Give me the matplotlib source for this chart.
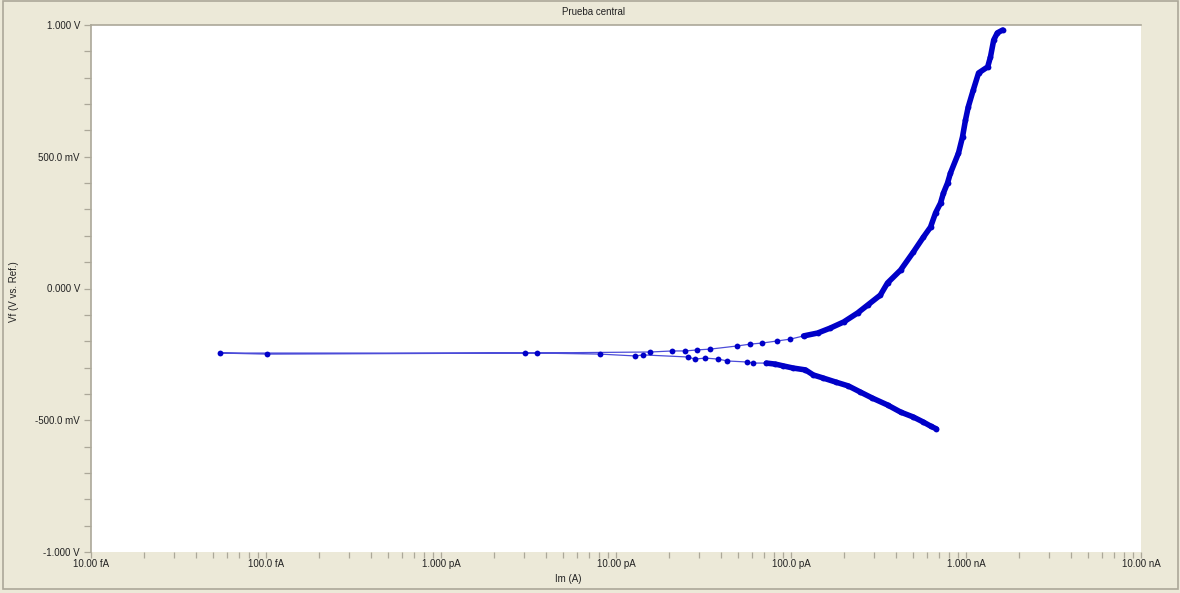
import matplotlib
matplotlib.use("Agg")
import matplotlib.pyplot as plt
from matplotlib.patches import Rectangle
from matplotlib.ticker import FixedLocator, LogLocator, NullFormatter
import numpy as np

# ---------------- data ----------------
# cathodic branch: scan start at -0.53 V moving toward Ecorr
cath_I = [6.78e-10, 6.27e-10, 5.71e-10, 5.01e-10, 4.23e-10, 3.56e-10, 2.92e-10,
          2.49e-10, 2.13e-10, 1.80e-10, 1.53e-10, 1.34e-10, 1.21e-10, 1.03e-10,
          9.06e-11, 8.15e-11, 7.23e-11, 6.10e-11, 5.64e-11, 4.32e-11, 3.85e-11,
          3.24e-11, 2.81e-11, 2.59e-11]
cath_V = [-0.533, -0.522, -0.507, -0.488, -0.469, -0.442, -0.416,
          -0.393, -0.370, -0.355, -0.340, -0.328, -0.309, -0.302,
          -0.294, -0.287, -0.283, -0.283, -0.279, -0.275, -0.268,
          -0.264, -0.268, -0.260]
# points around the corrosion potential (current through zero)
ecorr_I = [1.43e-11, 1.29e-11, 8.13e-12, 3.55e-12, 5.47e-14, 1.01e-13, 3.03e-12]
ecorr_V = [-0.252, -0.256, -0.249, -0.245, -0.245, -0.249, -0.245]
# anodic branch up to +1 V
anod_I = [1.57e-11, 2.10e-11, 2.49e-11, 2.92e-11, 3.46e-11, 4.94e-11, 5.86e-11,
          6.85e-11, 8.36e-11, 9.93e-11, 1.18e-10, 1.42e-10, 1.68e-10, 2.00e-10,
          2.40e-10, 2.74e-10, 3.24e-10, 3.56e-10, 4.23e-10, 5.01e-10, 5.71e-10,
          6.27e-10, 6.70e-10, 7.15e-10, 7.43e-10, 7.84e-10, 8.15e-10, 9.06e-10,
          9.55e-10, 9.93e-10, 1.03e-9, 1.10e-9, 1.18e-9, 1.33e-9, 1.38e-9,
          1.44e-9, 1.51e-9, 1.62e-9]
anod_V = [-0.241, -0.237, -0.237, -0.233, -0.230, -0.218, -0.211,
          -0.207, -0.199, -0.192, -0.180, -0.169, -0.150, -0.127,
          -0.093, -0.063, -0.025, 0.021, 0.070, 0.139, 0.195,
          0.233, 0.287, 0.324, 0.362, 0.400, 0.438, 0.514,
          0.575, 0.639, 0.689, 0.753, 0.818, 0.841, 0.879,
          0.943, 0.970, 0.981]

x_ticks = [1e-14, 1e-13, 1e-12, 1e-11, 1e-10, 1e-9, 1e-8]
x_labels = ["10.00 fA", "100.0 fA", "1.000 pA", "10.00 pA", "100.0 pA", "1.000 nA", "10.00 nA"]
y_ticks = [-1.0, -0.5, 0.0, 0.5, 1.0]
y_labels = ["-1.000 V", "-500.0 mV", "0.000 V", "500.0 mV", "1.000 V"]

title = "Prueba central"
xlabel = "Im (A)"
ylabel = "Vf (V vs. Ref.)"

# ---------------- figure ----------------
W, H = 1180, 593
BG = "#ECE9D8"
FRAME = "#ACA899"
BLUE = "#0000C8"
TXT = "#222222"
FONT = "Liberation Sans"

fig = plt.figure(figsize=(W / 100, H / 100), dpi=100, facecolor=BG)
fig.patches.append(Rectangle((3 / W, 1 - 589 / H), (1178 - 3) / W, (589 - 1) / H,
                             transform=fig.transFigure, fill=False,
                             edgecolor=FRAME, linewidth=1.2))

L, R, T, B = 91, 1141, 25, 552
ax = fig.add_axes([L / W, 1 - B / H, (R - L) / W, (B - T) / H])
ax.set_facecolor("white")
ax.set_xscale("log")
ax.set_xlim(1e-14, 1e-8)
ax.set_ylim(-1.0, 1.0)

for s in ["right", "bottom"]:
    ax.spines[s].set_visible(False)
for s in ["left", "top"]:
    ax.spines[s].set_color(FRAME)
    ax.spines[s].set_linewidth(1.2)

all_I = cath_I + ecorr_I + anod_I
all_V = cath_V + ecorr_V + anod_V

# thin connecting line
ax.plot(all_I, all_V, "-", color=BLUE, lw=0.9, alpha=0.7, zorder=3)
# dense parts of the branches appear as a thick band
ax.plot(cath_I[:17], cath_V[:17], "-", color=BLUE, lw=4.0,
        solid_capstyle="round", solid_joinstyle="round", zorder=4)
ax.plot(anod_I[10:], anod_V[10:], "-", color=BLUE, lw=4.0,
        solid_capstyle="round", solid_joinstyle="round", zorder=4)
# markers
ax.plot(all_I, all_V, "o", color=BLUE, ms=4.2, mec=BLUE, mew=0, zorder=5)

# ticks
ax.xaxis.set_major_locator(FixedLocator(x_ticks))
ax.set_xticklabels(x_labels)
ax.xaxis.set_minor_locator(LogLocator(base=10, subs=np.arange(2, 10), numticks=20))
ax.xaxis.set_minor_formatter(NullFormatter())
ax.yaxis.set_major_locator(FixedLocator(y_ticks))
ax.set_yticklabels(y_labels)
ax.yaxis.set_minor_locator(FixedLocator(np.round(np.arange(-1.0, 1.01, 0.1), 2)))

ax.tick_params(axis="both", which="both", direction="out", color=FRAME,
               labelcolor=TXT, labelsize=7, width=0.9)
ax.tick_params(axis="x", which="both", length=4, pad=1, bottom=True, top=False)
ax.tick_params(axis="y", which="both", length=5, pad=3, left=True, right=False)
for lab in ax.get_xticklabels() + ax.get_yticklabels():
    lab.set_fontfamily(FONT)

fig.text(594 / W, 1 - 12 / H, title, ha="center", va="center", fontsize=7,
         color=TXT, fontfamily=FONT)
fig.text(568 / W, 1 - 579 / H, xlabel, ha="center", va="center", fontsize=7,
         color=TXT, fontfamily=FONT)
fig.text(14 / W, 1 - 292 / H, ylabel, ha="center", va="center", rotation=90,
         fontsize=7, color=TXT, fontfamily=FONT)

fig.savefig("out.png", dpi=100, facecolor=BG)
